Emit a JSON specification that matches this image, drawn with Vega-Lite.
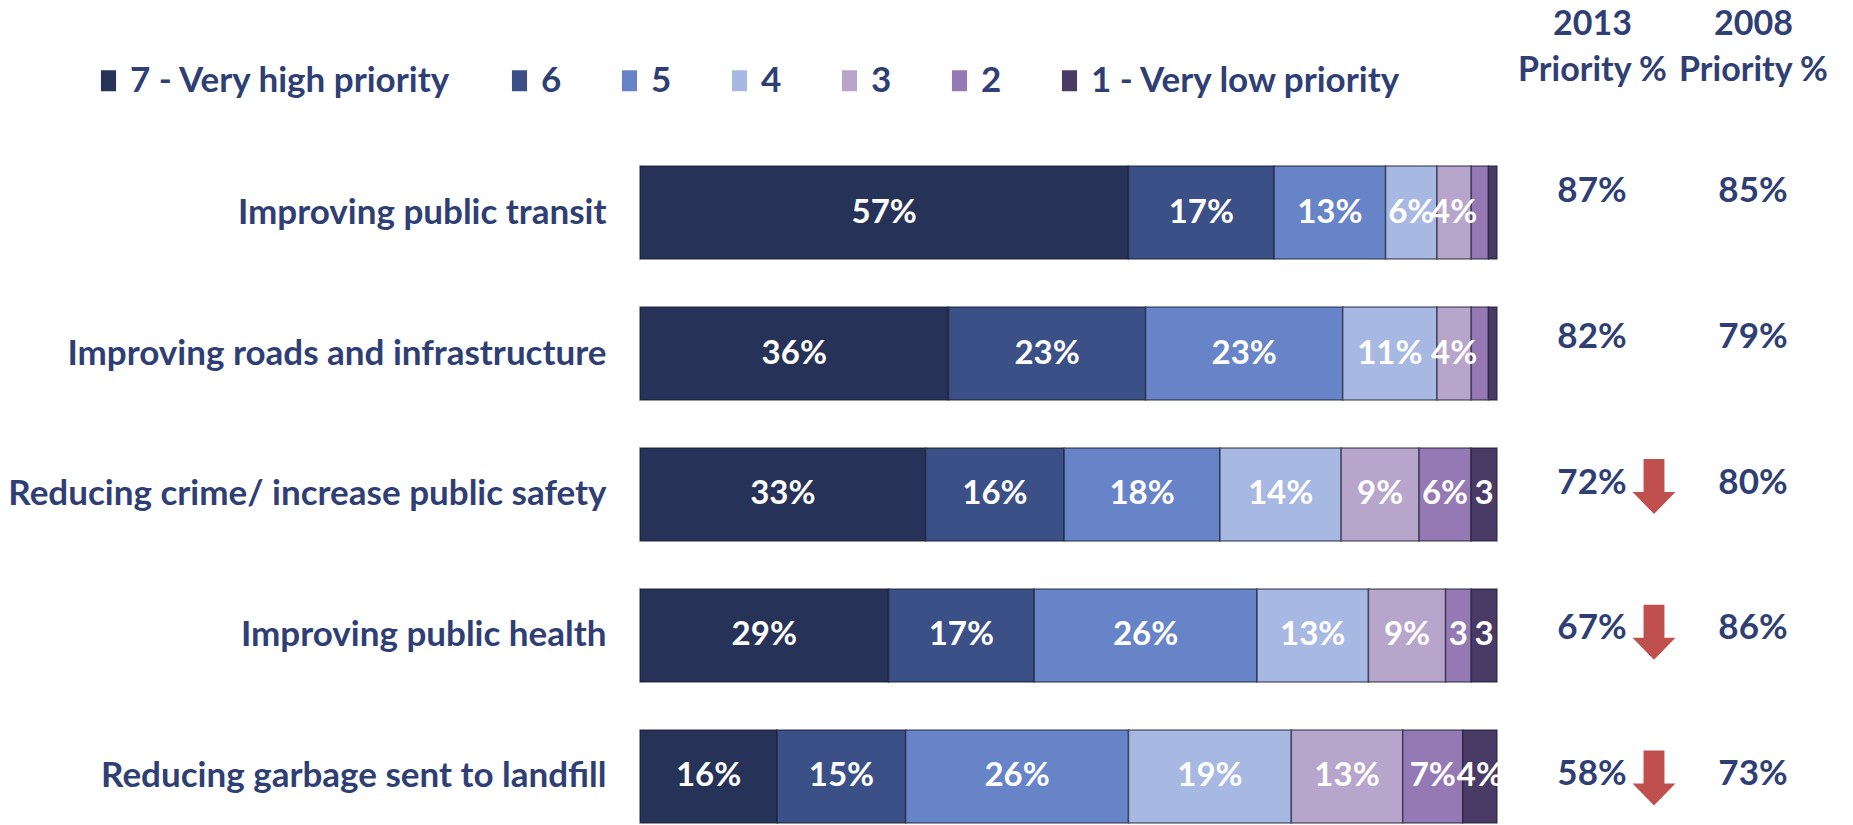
{
  "$schema": "https://vega.github.io/schema/vega-lite/v6.json",
  "autosize": "none",
  "padding": {"left": 640, "top": 140, "right": 356, "bottom": 2},
  "width": 857,
  "height": 683,
  "background": "white",
  "config": {"view": {"stroke": null}, "font": "Lato"},
  "datasets": {
    "segments": [
      {"item": "Improving public transit", "level": 7, "category": "7 - Very high priority", "value": 57, "label": "57%"},
      {"item": "Improving public transit", "level": 6, "category": "6", "value": 17, "label": "17%"},
      {"item": "Improving public transit", "level": 5, "category": "5", "value": 13, "label": "13%"},
      {"item": "Improving public transit", "level": 4, "category": "4", "value": 6, "label": "6%"},
      {"item": "Improving public transit", "level": 3, "category": "3", "value": 4, "label": "4%"},
      {"item": "Improving public transit", "level": 2, "category": "2", "value": 2, "label": ""},
      {"item": "Improving public transit", "level": 1, "category": "1 - Very low priority", "value": 1, "label": ""},
      {"item": "Improving roads and infrastructure", "level": 7, "category": "7 - Very high priority", "value": 36, "label": "36%"},
      {"item": "Improving roads and infrastructure", "level": 6, "category": "6", "value": 23, "label": "23%"},
      {"item": "Improving roads and infrastructure", "level": 5, "category": "5", "value": 23, "label": "23%"},
      {"item": "Improving roads and infrastructure", "level": 4, "category": "4", "value": 11, "label": "11%"},
      {"item": "Improving roads and infrastructure", "level": 3, "category": "3", "value": 4, "label": "4%"},
      {"item": "Improving roads and infrastructure", "level": 2, "category": "2", "value": 2, "label": ""},
      {"item": "Improving roads and infrastructure", "level": 1, "category": "1 - Very low priority", "value": 1, "label": ""},
      {"item": "Reducing crime/ increase public safety", "level": 7, "category": "7 - Very high priority", "value": 33, "label": "33%"},
      {"item": "Reducing crime/ increase public safety", "level": 6, "category": "6", "value": 16, "label": "16%"},
      {"item": "Reducing crime/ increase public safety", "level": 5, "category": "5", "value": 18, "label": "18%"},
      {"item": "Reducing crime/ increase public safety", "level": 4, "category": "4", "value": 14, "label": "14%"},
      {"item": "Reducing crime/ increase public safety", "level": 3, "category": "3", "value": 9, "label": "9%"},
      {"item": "Reducing crime/ increase public safety", "level": 2, "category": "2", "value": 6, "label": "6%"},
      {"item": "Reducing crime/ increase public safety", "level": 1, "category": "1 - Very low priority", "value": 3, "label": "3"},
      {"item": "Improving public health", "level": 7, "category": "7 - Very high priority", "value": 29, "label": "29%"},
      {"item": "Improving public health", "level": 6, "category": "6", "value": 17, "label": "17%"},
      {"item": "Improving public health", "level": 5, "category": "5", "value": 26, "label": "26%"},
      {"item": "Improving public health", "level": 4, "category": "4", "value": 13, "label": "13%"},
      {"item": "Improving public health", "level": 3, "category": "3", "value": 9, "label": "9%"},
      {"item": "Improving public health", "level": 2, "category": "2", "value": 3, "label": "3"},
      {"item": "Improving public health", "level": 1, "category": "1 - Very low priority", "value": 3, "label": "3"},
      {"item": "Reducing garbage sent to landfill", "level": 7, "category": "7 - Very high priority", "value": 16, "label": "16%"},
      {"item": "Reducing garbage sent to landfill", "level": 6, "category": "6", "value": 15, "label": "15%"},
      {"item": "Reducing garbage sent to landfill", "level": 5, "category": "5", "value": 26, "label": "26%"},
      {"item": "Reducing garbage sent to landfill", "level": 4, "category": "4", "value": 19, "label": "19%"},
      {"item": "Reducing garbage sent to landfill", "level": 3, "category": "3", "value": 13, "label": "13%"},
      {"item": "Reducing garbage sent to landfill", "level": 2, "category": "2", "value": 7, "label": "7%"},
      {"item": "Reducing garbage sent to landfill", "level": 1, "category": "1 - Very low priority", "value": 4, "label": "4%"}
    ],
    "priority": [
      {"item": "Improving public transit", "year": "2013", "pct": "87%", "trend": "up"},
      {"item": "Improving public transit", "year": "2008", "pct": "85%", "trend": ""},
      {"item": "Improving roads and infrastructure", "year": "2013", "pct": "82%", "trend": "up"},
      {"item": "Improving roads and infrastructure", "year": "2008", "pct": "79%", "trend": ""},
      {"item": "Reducing crime/ increase public safety", "year": "2013", "pct": "72%", "trend": "down"},
      {"item": "Reducing crime/ increase public safety", "year": "2008", "pct": "80%", "trend": ""},
      {"item": "Improving public health", "year": "2013", "pct": "67%", "trend": "down"},
      {"item": "Improving public health", "year": "2008", "pct": "86%", "trend": ""},
      {"item": "Reducing garbage sent to landfill", "year": "2013", "pct": "58%", "trend": "down"},
      {"item": "Reducing garbage sent to landfill", "year": "2008", "pct": "73%", "trend": ""}
    ]
  },
  "resolve": {"scale": {"x": "independent", "y": "independent"}, "axis": {"x": "independent", "y": "independent"}},
  "layer": [
    {
      "data": {"name": "segments"},
      "transform": [
        {"stack": "value", "groupby": ["item"], "sort": [{"field": "level", "order": "descending"}], "offset": "normalize", "as": ["x0", "x1"]}
      ],
      "encoding": {
        "y": {
          "field": "item", "type": "nominal",
          "sort": ["Improving public transit", "Improving roads and infrastructure", "Reducing crime/ increase public safety", "Improving public health", "Reducing garbage sent to landfill"],
          "scale": {"paddingInner": 0.34, "paddingOuter": 0.0922, "align": 1},
          "axis": {"title": null, "domain": false, "ticks": false, "labelPadding": 34, "labelFontSize": 35, "labelFontWeight": "bold", "labelColor": "#2f3f74", "labelFont": "Lato", "labelLimit": 0}
        }
      },
      "layer": [
        {
          "mark": {"type": "bar", "stroke": "#151a2c", "strokeWidth": 1.5, "strokeOpacity": 0.6},
          "encoding": {
            "x": {"field": "x0", "type": "quantitative", "scale": {"domain": [0, 1], "nice": false}, "axis": null},
            "x2": {"field": "x1"},
            "color": {
              "field": "category", "type": "nominal",
              "scale": {
                "domain": ["7 - Very high priority", "6", "5", "4", "3", "2", "1 - Very low priority"],
                "range": ["#263257", "#3a5086", "#6884c9", "#a7b8e2", "#b8a5cc", "#9479b5", "#4a3b66"]
              },
              "legend": {
                "title": null, "orient": "none", "direction": "horizontal", "columns": 7,
                "legendX": -549, "legendY": -77,
                "symbolType": "M-0.72,-1H0.72V1H-0.72Z", "symbolSize": 441, "symbolStrokeWidth": 0,
                "labelFontSize": 35, "labelFontWeight": "bold", "labelColor": "#2f3f74", "labelFont": "Lato",
                "labelOffset": 4, "columnPadding": 50, "labelLimit": 0
              }
            }
          }
        },
        {
          "transform": [
            {"fold": ["x0", "x1"], "as": ["edge", "pos"]},
            {"aggregate": [{"op": "mean", "field": "pos", "as": "xm"}], "groupby": ["item", "level", "label"]}
          ],
          "mark": {"type": "text", "color": "white", "fontSize": 33, "fontWeight": "bold", "font": "Lato", "baseline": "middle", "align": "center"},
          "encoding": {
            "x": {"field": "xm", "type": "quantitative"},
            "text": {"field": "label"}
          }
        }
      ]
    },
    {
      "data": {"name": "priority"},
      "encoding": {
        "y": {
          "field": "item", "type": "nominal",
          "sort": ["Improving public transit", "Improving roads and infrastructure", "Reducing crime/ increase public safety", "Improving public health", "Reducing garbage sent to landfill"],
          "scale": {"range": [-22, 707], "paddingInner": 0, "paddingOuter": 0},
          "axis": null
        },
        "x": {
          "field": "year", "type": "nominal", "sort": ["2013", "2008"],
          "scale": {"type": "point", "range": [952, 1113], "padding": 0},
          "axis": {"orient": "top", "title": null, "domain": false, "ticks": false, "tickSize": 0, "labelPadding": 116, "labelBaseline": "middle", "labelLineHeight": 46, "labelFontSize": 34, "labelFontWeight": "bold", "labelColor": "#2f3f74", "labelFont": "Lato", "labelAngle": 0, "labelExpr": "[datum.label, 'Priority %']"}
        }
      },
      "layer": [
        {
          "mark": {"type": "text", "color": "#2f3f74", "fontSize": 35, "fontWeight": "bold", "font": "Lato", "baseline": "middle", "align": "center"},
          "encoding": {"text": {"field": "pct"}}
        },
        {
          "transform": [{"filter": "datum.trend === 'down' && datum.year === '2013'"}],
          "mark": {"type": "point", "shape": "M-0.38,-1L0.38,-1L0.38,0.2L0.78,0.2L0,1L-0.78,0.2L-0.38,0.2Z", "filled": true, "color": "#c0504d", "opacity": 1, "size": 3025, "xOffset": 62, "yOffset": 4}
        }
      ]
    }
  ]
}
